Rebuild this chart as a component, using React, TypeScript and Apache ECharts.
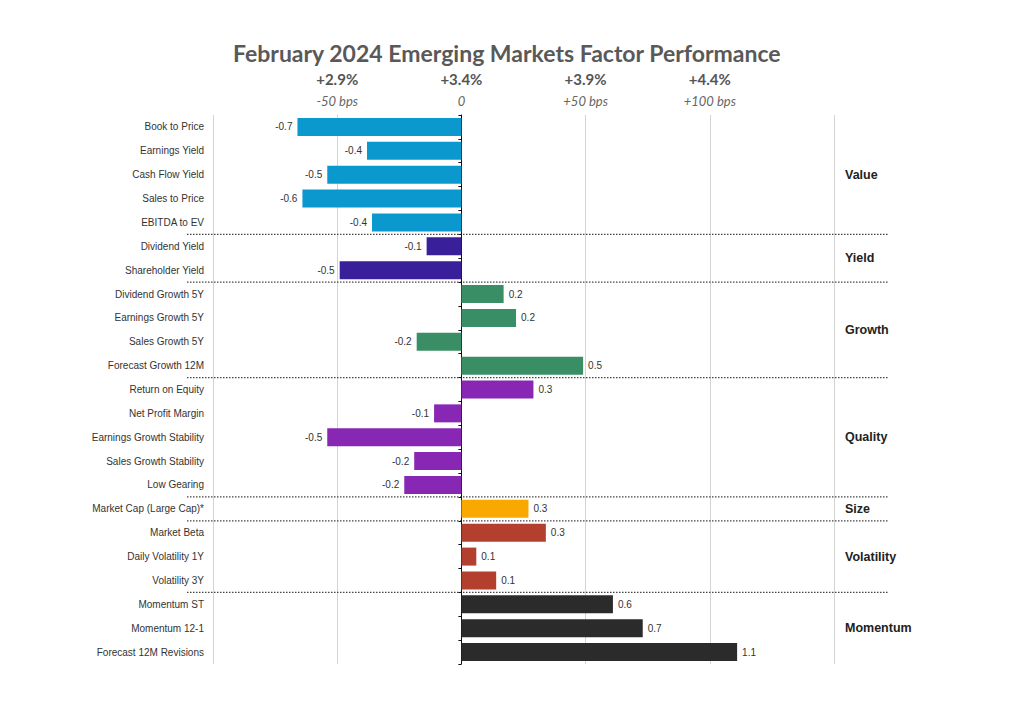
import React, { useEffect, useRef } from "react";
import * as echarts from "echarts";

const categories = [
  "Book to Price",
  "Earnings Yield",
  "Cash Flow Yield",
  "Sales to Price",
  "EBITDA to EV",
  "Dividend Yield",
  "Shareholder Yield",
  "Dividend Growth 5Y",
  "Earnings Growth 5Y",
  "Sales Growth 5Y",
  "Forecast Growth 12M",
  "Return on Equity",
  "Net Profit Margin",
  "Earnings Growth Stability",
  "Sales Growth Stability",
  "Low Gearing",
  "Market Cap (Large Cap)*",
  "Market Beta",
  "Daily Volatility 1Y",
  "Volatility 3Y",
  "Momentum ST",
  "Momentum 12-1",
  "Forecast 12M Revisions",
];

const values = [
  -0.66, -0.38, -0.54, -0.64, -0.36, -0.14, -0.49, 0.17, 0.22, -0.18, 0.49,
  0.29, -0.11, -0.54, -0.19, -0.23, 0.27, 0.34, 0.06, 0.14, 0.61, 0.73, 1.11,
];

const groupNames = ["Value", "Yield", "Growth", "Quality", "Size", "Volatility", "Momentum"];
const groupSizes = [5, 2, 4, 5, 1, 3, 3];
const groupColors = ["#0a98cf", "#3a1f9b", "#3a8e66", "#8827b3", "#f9a800", "#b3402f", "#2b2b2b"];

const tickValues = [-0.5, 0, 0.5, 1.0];
const tickReturns = ["+2.9%", "+3.4%", "+3.9%", "+4.4%"];
const tickBps = ["-50 bps", "0", "+50 bps", "+100 bps"];

const FONT = "Liberation Sans";

export default function App() {
  const ref = useRef<HTMLDivElement>(null);

  useEffect(() => {
    if (!ref.current) return;
    const chart = echarts.init(ref.current, null, { renderer: "svg" });

    const groupOf: number[] = [];
    groupSizes.forEach((n, g) => {
      for (let k = 0; k < n; k++) groupOf.push(g);
    });

    const barData = values.map((v, i) => ({
      value: v,
      itemStyle: { color: groupColors[groupOf[i]] },
      label: { position: v < 0 ? "left" : "right" },
    }));

    const option: any = {
      animation: false,
      backgroundColor: "#ffffff",
      title: {
        text: "February 2024 Emerging Markets Factor Performance",
        left: 228,
        top: 36,
        textStyle: {
          fontFamily: "Lato",
          fontWeight: "bold",
          fontSize: 23,
          color: "#595959",
        },
      },
      grid: { left: 213, right: 190, top: 115, bottom: 44, containLabel: false },
      xAxis: {
        type: "value",
        position: "top",
        min: -1,
        max: 1.5,
        interval: 0.5,
        axisLine: { show: false },
        axisTick: { show: false },
        splitLine: { show: true, lineStyle: { color: "#d3d3d3", width: 1 } },
        axisLabel: {
          margin: 3,
          formatter: (v: number) => {
            const i = tickValues.findIndex((t) => Math.abs(t - v) < 1e-9);
            if (i < 0) return "";
            return `{r|${tickReturns[i]}}\n{b|${tickBps[i]}}`;
          },
          rich: {
            r: { fontFamily: "Lato", fontWeight: "bold", fontSize: 15, color: "#555", lineHeight: 22 },
            b: { fontFamily: "Lato", fontStyle: "italic", fontSize: 13, color: "#666", lineHeight: 22 },
          },
        },
      },
      yAxis: [
        {
          type: "category",
          data: categories,
          inverse: true,
          position: "left",
          axisLine: { show: false, onZero: false },
          axisTick: { show: false },
          splitLine: { show: false },
          axisLabel: { margin: 9, fontFamily: FONT, fontSize: 10, color: "#333" },
        },
        {
          type: "category",
          data: categories,
          inverse: true,
          position: "right",
          axisLine: { show: true, onZero: true, lineStyle: { color: "#111", width: 1 } },
          axisTick: { show: true, inside: true, length: 3, lineStyle: { color: "#111" } },
          axisLabel: { show: false },
          splitLine: { show: false },
        },
      ],
      series: [
        {
          type: "bar",
          yAxisIndex: 0,
          data: barData,
          barWidth: 18,
          label: {
            show: true,
            distance: 5,
            fontFamily: FONT,
            fontSize: 10,
            color: "#333",
            formatter: (p: any) => (p.value as number).toFixed(1),
          },
        },
      ],
    };

    chart.setOption(option);

    const ys = categories.map((c) => chart.convertToPixel({ yAxisIndex: 0 }, c) as number);
    const step = ys[1] - ys[0];
    const graphics: any[] = [];
    let start = 0;
    groupSizes.forEach((n, g) => {
      const end = start + n - 1;
      const cy = (ys[start] + ys[end]) / 2;
      graphics.push({
        type: "text",
        x: 845,
        y: cy,
        style: {
          text: groupNames[g],
          fill: "#222",
          fontFamily: FONT,
          fontSize: 12.5,
          fontWeight: "bold",
          verticalAlign: "middle",
          align: "left",
        },
      });
      if (g < groupSizes.length - 1) {
        const by = ys[end] + step / 2;
        graphics.push({
          type: "line",
          shape: { x1: 187, y1: by, x2: 888, y2: by },
          style: { stroke: "#444", lineWidth: 1.2, lineDash: [1.5, 1.5] },
        });
      }
      start = end + 1;
    });
    chart.setOption({ graphic: graphics });

    return () => chart.dispose();
  }, []);

  return (
    <div
      ref={ref}
      style={{ position: "fixed", left: 0, top: 0, width: 1024, height: 708, background: "#fff" }}
    />
  );
}
